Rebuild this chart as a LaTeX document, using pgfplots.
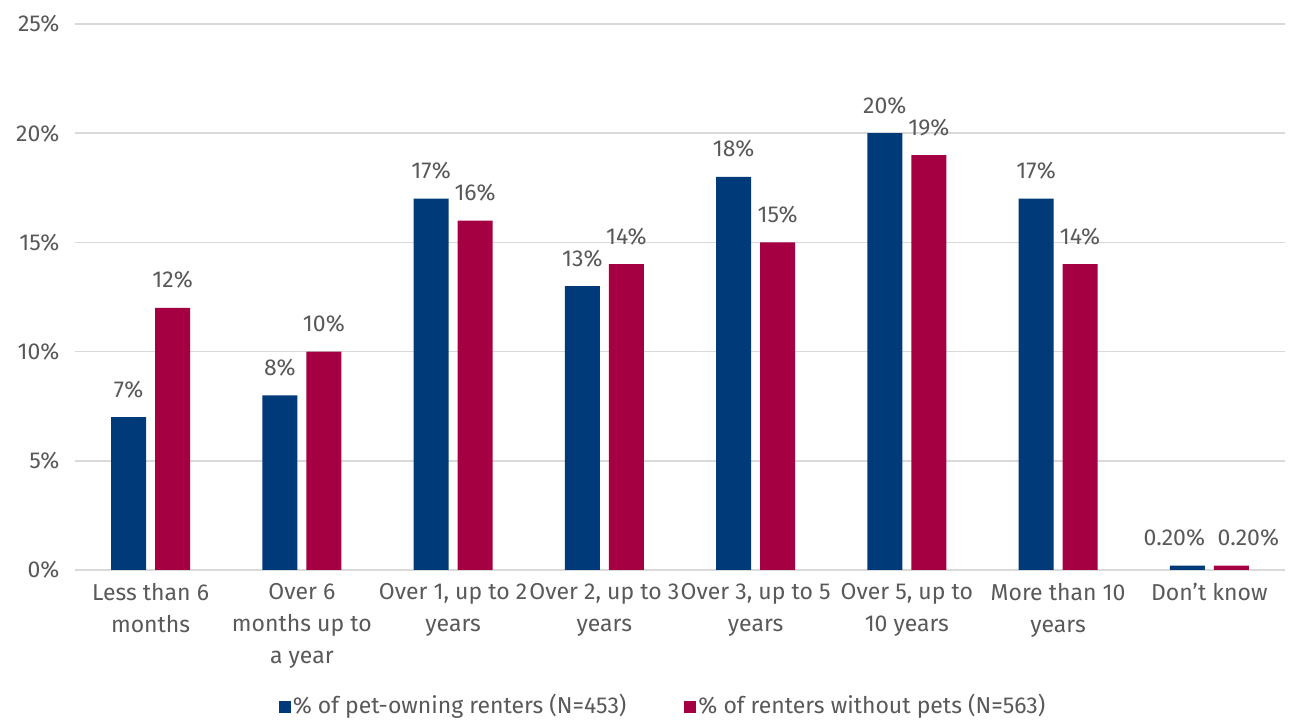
\documentclass[border=0pt]{standalone}
\usepackage{fontspec}
\setmainfont{Fira Sans}
\usepackage{pgfplots}
\pgfplotsset{compat=1.18}
\definecolor{cblue}{HTML}{003A78}
\definecolor{cred}{HTML}{A50042}
\definecolor{txt}{HTML}{595959}
\definecolor{gridc}{HTML}{D9D9D9}
\begin{document}
\begin{tikzpicture}[x=1pt,y=1pt]
\useasboundingbox (0,0) rectangle (1301,720);
\begin{axis}[
  at={(75pt,150pt)}, anchor=south west,
  scale only axis, width=1210pt, height=546pt,
  ymin=0, ymax=25, xmin=-0.5, xmax=7.5,
  ybar=9pt, bar width=35pt,
  axis line style={draw=none},
  ytick={0,5,...,25},
  yticklabel={\pgfmathprintnumber{\tick}\%},
  ymajorgrids, grid style={gridc, line width=1.5pt},
  major tick length=0pt,
  xtick={0,...,7},
  xticklabels={{Less than 6\\months},{Over 6\\months up to\\a year},{Over 1, up to 2\\years},{Over 2, up to 3\\years},{Over 3, up to 5\\years},{Over 5, up to\\10 years},{More than 10\\years},{Don’t know}},
  tick label style={font=\fontsize{23}{32}\selectfont, text=txt},
  xticklabel style={align=center, yshift=-10pt},
  yticklabel style={xshift=-12pt},
  /pgf/number format/assume math mode=true,
  nodes near coords, point meta=explicit symbolic,
  every node near coord/.append style={font=\fontsize{23}{28}\selectfont, text=txt, anchor=base, yshift=20pt},
  legend style={at={(0.486,0)}, anchor=north, yshift=-120pt, draw=none, legend columns=2,
    font=\fontsize{23}{28}\selectfont, text=txt,
    /tikz/every even column/.append style={column sep=56pt}},
  legend image code/.code={\fill[#1] (0pt,-8pt) rectangle (12pt,4pt);},
]
\addplot[fill=cblue, draw=none] coordinates {(0,7)[7\%] (1,8)[8\%] (2,17)[17\%] (3,13)[13\%] (4,18)[18\%] (5,20)[20\%] (6,17)[17\%] (7,0.2)[0.20\%\hspace*{26pt}]};
\addplot[fill=cred, draw=none] coordinates {(0,12)[12\%] (1,10)[10\%] (2,16)[16\%] (3,14)[14\%] (4,15)[15\%] (5,19)[19\%] (6,14)[14\%] (7,0.2)[\hspace*{34pt}0.20\%]};
\legend{\% of pet-owning renters (N=453),\% of renters without pets (N=563)}
\end{axis}
\end{tikzpicture}
\end{document}
